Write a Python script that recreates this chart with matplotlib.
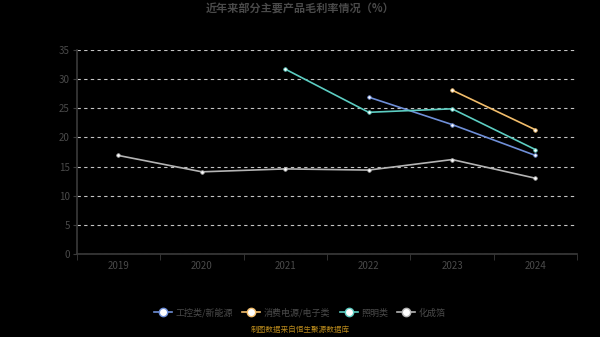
import numpy as np
import matplotlib
matplotlib.use("Agg")
import matplotlib.pyplot as plt

plt.rcParams["font.family"] = ["Noto Sans CJK SC", "DejaVu Sans"]

YEARS = ["2019", "2020", "2021", "2022", "2023", "2024"]
SERIES_NAMES = ["工控类/新能源", "消费电源/电子类", "照明类", "化成箔"]
INDUSTRIAL = [None, None, None, 26.9, 22.2, 16.9]
CONSUMER = [None, None, None, None, 28.1, 21.3]
LIGHTING = [None, None, 31.7, 24.3, 24.9, 17.9]
FOIL = [16.9, 14.1, 14.6, 14.4, 16.2, 13.0]
COLORS = ["#6f8fd8", "#f2bd6b", "#5ccdc2", "#b4b4b4"]
Y_TICKS = [0, 5, 10, 15, 20, 25, 30, 35]


def to_arr(vals):
    return np.array([np.nan if v is None else v for v in vals], dtype=float)


fig = plt.figure(figsize=(6, 3.37), dpi=100, facecolor="black")
ax = fig.add_axes([0.128, 0.246, 0.834, 0.606], facecolor="black")

x = np.arange(len(YEARS))
for name, vals, c in zip(SERIES_NAMES, [INDUSTRIAL, CONSUMER, LIGHTING, FOIL], COLORS):
    ax.plot(x, to_arr(vals), color=c, lw=1.2, marker="o", ms=2.5,
            mfc="white", mec=c, mew=0.6, label=name, zorder=3)

ax.set_xlim(-0.5, len(YEARS) - 0.5)
ax.set_ylim(0, 35)
ax.set_yticks(Y_TICKS)
ax.set_xticks(x)
ax.set_xticklabels(YEARS)
ax.set_xticks(np.arange(-0.5, len(YEARS)), minor=True)
ax.tick_params(axis="x", which="major", length=0, colors="#4a4a4a", labelsize=7, pad=5)
ax.tick_params(axis="x", which="minor", length=4, color="#3a3a3a", direction="out")
ax.tick_params(axis="y", length=3, color="#3a3a3a", colors="#4a4a4a", labelsize=7, pad=2)

ax.grid(axis="y", color="#c4c4c4", ls=(0, (3, 3)), lw=0.8)
for s in ["top", "right"]:
    ax.spines[s].set_visible(False)
for s in ["left", "bottom"]:
    ax.spines[s].set_color("#3a3a3a")
    ax.spines[s].set_linewidth(1.2)

fig.text(0.5, 0.972, "近年来部分主要产品毛利率情况（%）", ha="center", va="center",
         color="#4a4a4a", fontsize=8, fontweight="bold")

handles = [plt.Line2D([], [], color=c, lw=1.2, marker="o", ms=6, mfc="white", mec=c, mew=1)
           for c in COLORS]
leg = fig.legend(handles, SERIES_NAMES, loc="center", bbox_to_anchor=(0.5, 0.072),
                 ncol=4, frameon=False, fontsize=6.5, handlelength=2.0, columnspacing=1.0,
                 handletextpad=0.4)
for t in leg.get_texts():
    t.set_color("#4a4a4a")

fig.text(0.5, 0.02, "制图数据来自恒生聚源数据库", ha="center", va="center",
         color="#b8891c", fontsize=5.5)

fig.savefig("out.png", dpi=100, facecolor="black")
